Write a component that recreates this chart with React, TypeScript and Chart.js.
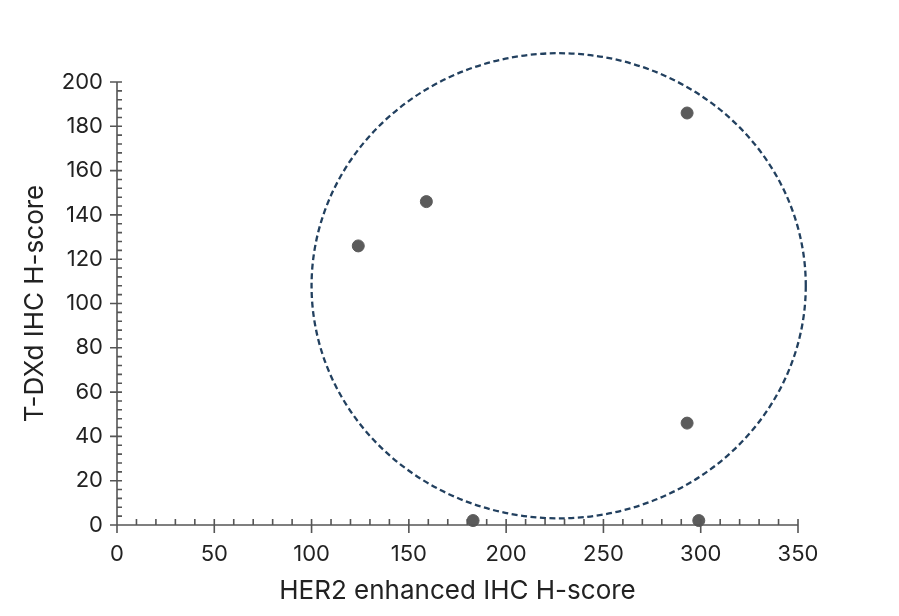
import { useEffect, useRef } from "react";
import { Chart, registerables } from "chart.js";
Chart.register(...registerables);

// HER2 enhanced IHC H-score vs T-DXd IHC H-score
const herScores = [124, 159, 293, 293, 183, 299];
const tdxdScores = [126, 146, 186, 46, 2, 2];

// dashed ellipse: centre and radii in data units
const ellipseCenter = [227, 108];
const ellipseRadius = [127, 105];

const xMajor = [0, 50, 100, 150, 200, 250, 300, 350];
const yMajor = [0, 20, 40, 60, 80, 100, 120, 140, 160, 180, 200];

const FONT = "Inter, 'DejaVu Sans', sans-serif";

const ellipsePlugin = {
  id: "ellipse",
  beforeDatasetsDraw(chart: any) {
    const { ctx, scales } = chart;
    const { x, y } = scales;
    const cx = x.getPixelForValue(ellipseCenter[0]);
    const cy = y.getPixelForValue(ellipseCenter[1]);
    const rx = x.getPixelForValue(ellipseCenter[0] + ellipseRadius[0]) - cx;
    const ry = cy - y.getPixelForValue(ellipseCenter[1] + ellipseRadius[1]);
    ctx.save();
    ctx.strokeStyle = "#22405f";
    ctx.lineWidth = 2.3;
    ctx.setLineDash([6, 3.5]);
    ctx.beginPath();
    ctx.ellipse(cx, cy, rx, ry, 0, 0, Math.PI * 2);
    ctx.stroke();
    ctx.restore();
  },
};

// axis lines with major + minor ticks
const axesPlugin = {
  id: "axesTicks",
  afterDraw(chart: any) {
    const { ctx, scales } = chart;
    const { x, y } = scales;
    const x0 = x.getPixelForValue(0);
    const x1 = x.getPixelForValue(350);
    const y0 = y.getPixelForValue(0);
    const y1 = y.getPixelForValue(200);
    ctx.save();
    ctx.strokeStyle = "#555";
    ctx.lineWidth = 1.6;
    ctx.beginPath();
    ctx.moveTo(x0, y0);
    ctx.lineTo(x1, y0);
    ctx.moveTo(x0, y0);
    ctx.lineTo(x0, y1);
    // x ticks
    for (let v = 0; v <= 350; v += 10) {
      const px = x.getPixelForValue(v);
      if (v % 50 === 0) {
        ctx.moveTo(px, y0 - 6);
        ctx.lineTo(px, y0 + 8);
      } else {
        ctx.moveTo(px, y0);
        ctx.lineTo(px, y0 - 6);
      }
    }
    // y ticks
    for (let v = 0; v <= 200; v += 4) {
      const py = y.getPixelForValue(v);
      if (v % 20 === 0) {
        ctx.moveTo(x0 - 7, py);
        ctx.lineTo(x0 + 5, py);
      } else {
        ctx.moveTo(x0, py);
        ctx.lineTo(x0 + 5, py);
      }
    }
    ctx.stroke();
    ctx.restore();
  },
};

export default function App() {
  const canvasRef = useRef<HTMLCanvasElement>(null);

  useEffect(() => {
    document.body.style.margin = "0";
    const canvas = canvasRef.current;
    if (!canvas) return;

    const chart = new Chart(canvas, {
      type: "scatter",
      data: {
        datasets: [
          {
            data: herScores.map((v, i) => ({ x: v, y: tdxdScores[i] })),
            backgroundColor: "#5b5b5b",
            borderColor: "#5b5b5b",
            pointRadius: 6,
            clip: false as any,
          },
        ],
      },
      options: {
        animation: false,
        responsive: false,
        layout: { padding: { top: 82, right: 101, left: 0, bottom: 0 } },
        plugins: { legend: { display: false }, tooltip: { enabled: false } },
        scales: {
          x: {
            type: "linear",
            min: 0,
            max: 350,
            afterBuildTicks: (s: any) => {
              s.ticks = xMajor.map((v) => ({ value: v }));
            },
            afterFit: (s: any) => {
              s.height = 91;
            },
            grid: { display: false },
            border: { display: false },
            ticks: {
              color: "#222",
              font: { family: FONT, size: 22 },
              padding: 8,
              maxRotation: 0,
            },
            title: {
              display: true,
              text: "HER2 enhanced IHC H-score",
              color: "#222",
              font: { family: FONT, size: 26 },
              padding: { top: 0, bottom: 9 },
            },
          },
          y: {
            type: "linear",
            min: 0,
            max: 200,
            afterBuildTicks: (s: any) => {
              s.ticks = yMajor.map((v) => ({ value: v }));
            },
            afterFit: (s: any) => {
              s.width = 117;
            },
            grid: { display: false },
            border: { display: false },
            ticks: {
              color: "#222",
              font: { family: FONT, size: 22 },
              padding: 6,
            },
            title: {
              display: true,
              text: "T-DXd IHC H-score",
              color: "#222",
              font: { family: FONT, size: 26 },
              padding: { top: 20, bottom: 0 },
            },
          },
        },
      },
      plugins: [ellipsePlugin, axesPlugin],
    });

    return () => chart.destroy();
  }, []);

  return (
    <div style={{ width: 899, height: 616, background: "#fff" }}>
      <canvas ref={canvasRef} width={899} height={616} />
    </div>
  );
}
